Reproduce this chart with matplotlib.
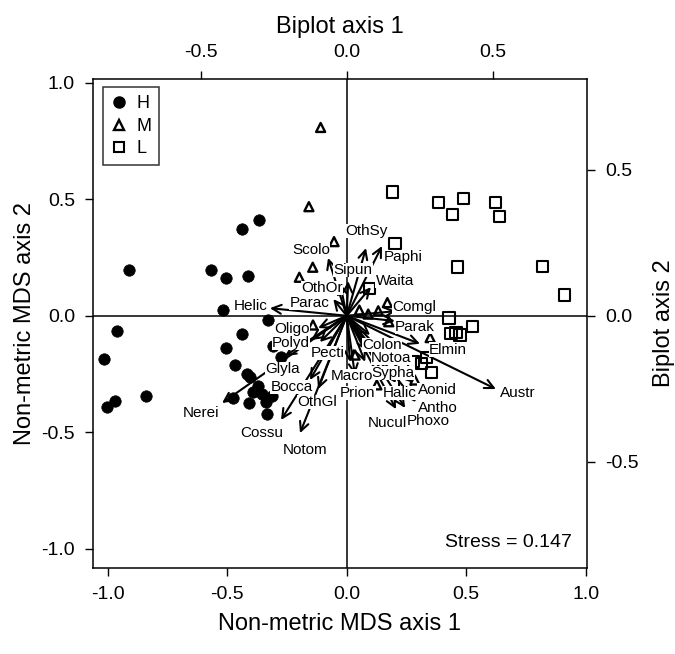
import matplotlib
matplotlib.use("Agg")
import matplotlib.pyplot as plt
from matplotlib.lines import Line2D

plt.rcParams['font.family'] = ['Liberation Sans', 'DejaVu Sans']

# ---- site scores (NMDS) ----
h_x = [-0.911, -0.568, -0.504, -0.414, -0.366, -0.439, -0.519, -0.328, -0.961, -0.439,
       -1.015, -0.506, -0.276, -0.310, -0.469, -0.418, -0.405, -0.370, -0.393, -0.356,
       -0.314, -0.474, -0.339, -0.840, -0.971, -1.002, -0.408, -0.335]
h_y = [0.196, 0.196, 0.160, 0.172, 0.409, 0.372, 0.024, -0.020, -0.064, -0.077,
       -0.186, -0.140, -0.176, -0.129, -0.213, -0.250, -0.264, -0.300, -0.329, -0.336,
       -0.343, -0.355, -0.369, -0.343, -0.366, -0.393, -0.376, -0.422]

m_x = [-0.109, -0.158, -0.053, -0.142, -0.198, -0.141, 0.053, 0.090, 0.132, 0.170,
       0.349, 0.126, 0.035, 0.176, 0.285]
m_y = [0.808, 0.468, 0.318, 0.208, 0.165, -0.040, 0.024, 0.007, 0.021, 0.056,
       -0.094, -0.297, -0.169, -0.026, -0.276]

l_x = [0.192, 0.383, 0.487, 0.622, 0.441, 0.639, 0.463, 0.820, 0.912, 0.202,
       0.428, 0.527, 0.436, 0.457, 0.474, 0.279, 0.314, 0.332, 0.353, 0.244, 0.097]
l_y = [0.531, 0.484, 0.504, 0.485, 0.435, 0.427, 0.209, 0.213, 0.089, 0.311,
       -0.010, -0.047, -0.076, -0.071, -0.083, -0.197, -0.204, -0.179, -0.245, -0.283, 0.118]

# ---- species biplot vectors ----
species = ['Helic', 'Scolo', 'Sipun', 'OthOr', 'Parac', 'OthSy', 'Paphi', 'Waita',
           'Comgl', 'Parak', 'Elmin', 'Colon', 'Notoa', 'Sypha', 'Macro', 'Prion',
           'Halic', 'Aonid', 'Austr', 'Antho', 'Phoxo', 'Nucul', 'Pecti', 'Oligo',
           'Polyd', 'Glyla', 'Nerei', 'Bocca', 'OthGl', 'Cossu', 'Notom']
vec_x = [-0.263, -0.064, 0.005, -0.023, -0.046, 0.066, 0.121, 0.083,
         0.169, 0.165, 0.251, 0.080, 0.070, 0.063, 0.011, 0.028,
         0.169, 0.227, 0.511, 0.237, 0.200, 0.169, -0.092, -0.098,
         -0.122, -0.212, -0.427, -0.126, -0.098, -0.225, -0.160]
vec_y = [0.026, 0.198, 0.119, 0.112, 0.057, 0.232, 0.239, 0.098,
         0.016, -0.018, -0.096, -0.066, -0.121, -0.158, -0.158, -0.203,
         -0.230, -0.230, -0.251, -0.296, -0.316, -0.320, -0.090, -0.042,
         -0.083, -0.138, -0.299, -0.220, -0.251, -0.357, -0.402]

# label placement offsets (pixels) relative to arrow tips (layout only)
label_off = [(-19, 2), (-17, 8), (5, 11), (-18, -5), (-24, -4), (0, 17), (21, -11), (24, 6),
             (18, 4), (20, -6), (28, -6), (12, -10), (24, -7), (28, -11), (2, -14), (3, -18),
             (4, -10), (24, -7), (22, -4), (22, -6), (23, -13), (-9, -14), (8, -11), (-26, -1),
             (-20, -3), (-2, -13), (-21, -10), (-18, -7), (-1, -13), (-19, -13), (5, -17)]

stress = 0.147

fig = plt.figure(figsize=(6.75, 6.54), dpi=100)
pos = [93 / 675, 1 - 568 / 654, 494 / 675, 489 / 654]
ax = fig.add_axes(pos)
ax.set_xlim(-1.061, 1.005)
ax.set_ylim(-1.083, 1.016)

ax.axhline(0, color='black', lw=1.1, zorder=1)
ax.axvline(0, color='black', lw=1.1, zorder=1)

ax.scatter(h_x, h_y, s=68, marker='o', facecolor='black', edgecolor='black', lw=0.5, zorder=3)
ax.scatter(m_x, m_y, s=42, marker='^', facecolor='none', edgecolor='black', lw=1.7, zorder=3)
ax.scatter(l_x, l_y, s=64, marker='s', facecolor='none', edgecolor='black', lw=1.5, zorder=3)

ticks = [-1.0, -0.5, 0.0, 0.5, 1.0]
ax.set_xticks(ticks)
ax.set_yticks(ticks)
ax.set_xticklabels([f"{t:.1f}" for t in ticks])
ax.set_yticklabels([f"{t:.1f}" for t in ticks])
ax.tick_params(direction='out', length=6, width=1, labelsize=14, pad=7)
ax.set_xlabel('Non-metric MDS axis 1', fontsize=17, labelpad=7)
ax.set_ylabel('Non-metric MDS axis 2', fontsize=17, labelpad=4)
for sp in ax.spines.values():
    sp.set_linewidth(1.1)

ax.text(0.97, 0.035, f'Stress = {stress}', transform=ax.transAxes,
        ha='right', va='bottom', fontsize=14)

handles = [Line2D([], [], marker='o', ls='none', color='black', markersize=8),
           Line2D([], [], marker='^', ls='none', markerfacecolor='none',
                  markeredgecolor='black', markersize=6.5, markeredgewidth=1.7),
           Line2D([], [], marker='s', ls='none', markerfacecolor='none',
                  markeredgecolor='black', markersize=7.5, markeredgewidth=1.5)]
leg = ax.legend(handles, ['H', 'M', 'L'], loc='upper left', bbox_to_anchor=(0.02, 0.983),
                borderaxespad=0, frameon=True, fancybox=False, fontsize=13,
                handlelength=0.9, handletextpad=0.5, borderpad=0.45, labelspacing=0.3)
leg.get_frame().set_edgecolor('black')
leg.get_frame().set_linewidth(1.1)
leg.set_zorder(10)

# biplot axes
ax2 = fig.add_axes(pos, frameon=False)
ax2.set_xlim(-0.869, 0.823)
ax2.set_ylim(-0.864, 0.811)
ax2.xaxis.tick_top()
ax2.yaxis.tick_right()
ax2.xaxis.set_label_position('top')
ax2.yaxis.set_label_position('right')
bt = [-0.5, 0.0, 0.5]
ax2.set_xticks(bt)
ax2.set_yticks(bt)
ax2.set_xticklabels([f"{t:.1f}" for t in bt])
ax2.set_yticklabels([f"{t:.1f}" for t in bt])
ax2.tick_params(direction='out', length=6, width=1, labelsize=14, pad=7)
ax2.set_xlabel('Biplot axis 1', fontsize=17, labelpad=8)
ax2.set_ylabel('Biplot axis 2', fontsize=17, labelpad=10)
ax2.patch.set_alpha(0)

for name, vx, vy, off in zip(species, vec_x, vec_y, label_off):
    ax2.annotate('', xy=(vx, vy), xytext=(0, 0),
                 arrowprops=dict(arrowstyle='->,head_length=0.65,head_width=0.32',
                                 lw=1.5, color='black', shrinkA=0, shrinkB=0), zorder=4)
for name, vx, vy, off in zip(species, vec_x, vec_y, label_off):
    ax2.annotate(name, xy=(vx, vy), xytext=off, textcoords='offset pixels',
                 ha='center', va='center', fontsize=11, zorder=5,
                 bbox=dict(boxstyle='square,pad=0.02', fc='white', ec='none'))

fig.savefig('out.png', dpi=100)
